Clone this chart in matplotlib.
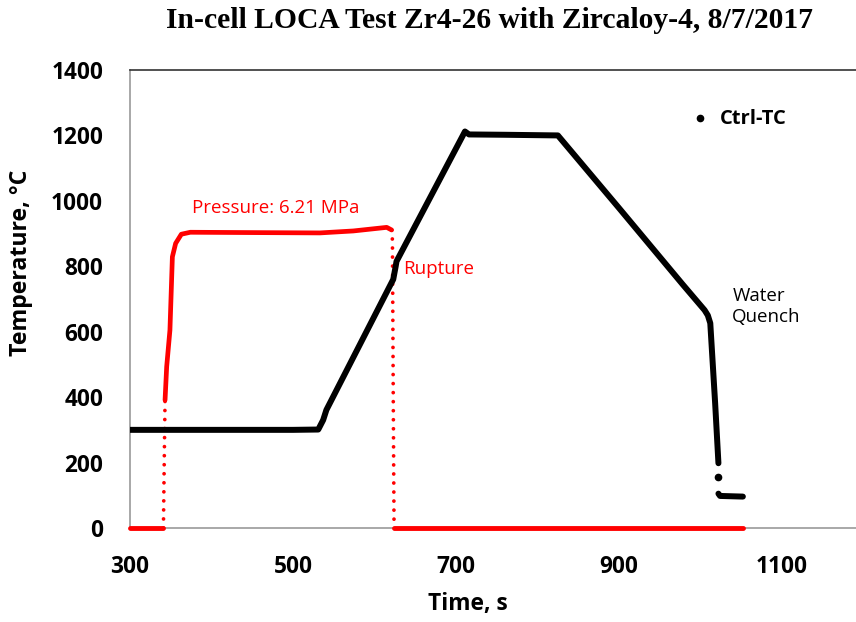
import matplotlib
matplotlib.use("Agg")
import matplotlib.pyplot as plt

# Ctrl-TC temperature, deg C vs time s
tc_time = [300, 400, 500, 531, 537, 541, 623, 626, 627, 711, 716, 760, 825,
           900, 978, 1005, 1009, 1012, 1018, 1022]
tc_temp = [300, 300, 300, 301, 330, 361, 760, 800, 815, 1212, 1203, 1202, 1200,
           978, 745, 666, 650, 626, 380, 198]
tc_dot_time = [1022]
tc_dot_temp = [157]
tc_tail_time = [1022, 1024, 1052]
tc_tail_temp = [105, 98, 96]

# pressure trace drawn on the temperature scale
p_base1_time = [300, 341]
p_base1_val = [0, 0]
p_jump1_time = [341, 342, 343]
p_jump1_val = [0, 200, 391]
p_time = [343, 345, 349, 352, 356, 363, 374, 450, 533, 574, 615, 621]
p_val = [391, 493, 605, 829, 870, 898, 904, 903, 902, 908, 919, 911]
p_jump2_time = [621, 622, 623, 624]
p_jump2_val = [911, 880, 400, 0]
p_base2_time = [624, 700, 800, 900, 1000, 1052]
p_base2_val = [0, 0, 0, 0, 0, 0]

xticks = [300, 500, 700, 900, 1100]
yticks = [0, 200, 400, 600, 800, 1000, 1200, 1400]

sans = "Open Sans"
red = "#ff0000"

fig = plt.figure(figsize=(8.56, 6.22), dpi=100)
ax = fig.add_axes([130 / 856, 94 / 622, 733.5 / 856, 458 / 622])

dots = (0, (0.01, 2.4))
ax.plot(p_base1_time, p_base1_val, color=red, lw=3.5, solid_capstyle="round", zorder=3, clip_on=False)
ax.plot(p_jump1_time, p_jump1_val, color=red, lw=2.7, linestyle=dots, dash_capstyle="round", zorder=3)
ax.plot(p_time, p_val, color=red, lw=3.4, solid_capstyle="round", solid_joinstyle="round", zorder=3)
ax.plot(p_jump2_time, p_jump2_val, color=red, lw=2.7, linestyle=dots, dash_capstyle="round", zorder=3)
ax.plot(p_base2_time, p_base2_val, color=red, lw=3.5, solid_capstyle="round", zorder=3, clip_on=False)

ax.plot(tc_time, tc_temp, color="black", lw=4.3, solid_capstyle="round", solid_joinstyle="round", zorder=4)
ax.plot(tc_dot_time, tc_dot_temp, "o", color="black", ms=4.5, zorder=4)
ax.plot(tc_tail_time, tc_tail_temp, color="black", lw=4.3, solid_capstyle="round", zorder=4)

ax.set_xlim(300, 1200)
ax.set_ylim(0, 1400)
ax.set_xticks(xticks)
ax.set_yticks(yticks)
ax.tick_params(length=0, labelsize=16.3, pad=19.4)
for lab in ax.get_xticklabels() + ax.get_yticklabels():
    lab.set_fontfamily(sans)
    lab.set_fontweight("bold")

for side in ["left", "bottom"]:
    ax.spines[side].set_color("#999999")
    ax.spines[side].set_linewidth(1.2)
ax.spines["top"].set_color("#333333")
ax.spines["top"].set_linewidth(1.2)
ax.spines["right"].set_visible(False)

ax.set_xlabel("Time, s", fontfamily=sans, fontweight="bold", fontsize=16.4)
ax.set_ylabel("Temperature, \u00b0C", fontfamily=sans, fontweight="bold", fontsize=16.7)
ax.xaxis.set_label_coords(468 / 733.5 - 130 / 733.5, -64 / 458)
ax.yaxis.set_label_coords(-97 / 733.5, 0.58)

fig.text(0.5724, 1 - 28.3 / 622, "In-cell LOCA Test Zr4-26 with Zircaloy-4, 8/7/2017",
         ha="center", va="baseline", fontfamily="Liberation Serif", fontweight="bold", fontsize=21.3)

# legend
ax.plot([999], [1253], "o", color="black", ms=4.5, clip_on=False)
ax.text(1024, 1251, "Ctrl-TC", ha="left", va="center", fontfamily=sans, fontweight="bold", fontsize=14.5)

ax.text(376, 978, "Pressure: 6.21 MPa", color=red, ha="left", va="center", fontfamily=sans, fontsize=13.5)
ax.text(635, 793, "Rupture", color=red, ha="left", va="center", fontfamily=sans, fontsize=13.5)
ax.text(1039, 678, "Water\nQuench", color="black", ha="left", va="center", fontfamily=sans,
        fontsize=13.5, linespacing=1.2)

fig.savefig("out.png", dpi=100)
